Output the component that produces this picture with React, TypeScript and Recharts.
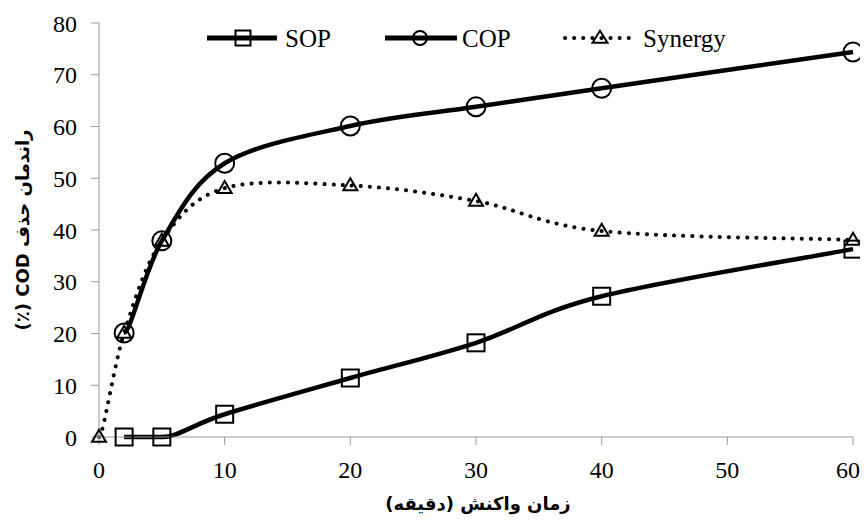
import React from 'react';
import { LineChart, Line, XAxis, YAxis, Legend } from 'recharts';

// ---- data ----
const sopTimes = [2, 5, 10, 20, 30, 40, 60];
const sopValues = [0, 0, 4.4, 11.4, 18.2, 27.2, 36.3];
const copTimes = [2, 5, 10, 20, 30, 40, 60];
const copValues = [20.1, 37.9, 52.9, 60.1, 63.8, 67.4, 74.4];
const synergyTimes = [0, 2, 5, 10, 20, 30, 40, 60];
const synergyValues = [0, 20.1, 37.9, 48.1, 48.6, 45.6, 39.8, 38.1];
const xTicks = [0, 10, 20, 30, 40, 50, 60];
const yTicks = [0, 10, 20, 30, 40, 50, 60, 70, 80];
const seriesNames = ['SOP', 'COP', 'Synergy'];
const xTitle = 'زمان واکنش (دقیقه)';
const yTitle = 'راندمان حذف COD (٪)';

const sopData = sopTimes.map((t, i) => ({ t, v: sopValues[i] }));
const copData = copTimes.map((t, i) => ({ t, v: copValues[i] }));
const synergyData = synergyTimes.map((t, i) => ({ t, v: synergyValues[i] }));

const SERIF = 'Liberation Serif';
const PERSIAN = 'DejaVu Sans';
const AXIS_GRAY = '#9a9a9a';

// Excel-like smoothing (Catmull-Rom converted to Bezier); flat segments stay flat
function excelCurve(context: any) {
  let pts: number[][] = [];
  return {
    areaStart() {},
    areaEnd() {},
    lineStart() {
      pts = [];
    },
    point(x: number, y: number) {
      pts.push([+x, +y]);
    },
    lineEnd() {
      const n = pts.length;
      if (!n) return;
      context.moveTo(pts[0][0], pts[0][1]);
      for (let i = 0; i < n - 1; i++) {
        const p0 = pts[i - 1] || pts[i];
        const p1 = pts[i];
        const p2 = pts[i + 1];
        const p3 = pts[i + 2] || pts[i + 1];
        if (p1[1] === p2[1]) {
          context.lineTo(p2[0], p2[1]);
          continue;
        }
        const flatBefore = p0[1] === p1[1];
        context.bezierCurveTo(
          p1[0] + (p2[0] - p0[0]) / 6,
          flatBefore ? p1[1] : p1[1] + (p2[1] - p0[1]) / 6,
          p2[0] - (p3[0] - p1[0]) / 6,
          p2[1] - (p3[1] - p1[1]) / 6,
          p2[0],
          p2[1]
        );
      }
    },
  };
}

const SquareDot = ({ cx, cy, size = 17 }: any) => (
  <rect x={cx - size / 2} y={cy - size / 2} width={size} height={size} fill="none" stroke="#000" strokeWidth={2} />
);
const CircleDot = ({ cx, cy, r = 9.5 }: any) => (
  <circle cx={cx} cy={cy} r={r} fill="none" stroke="#000" strokeWidth={2} />
);
const TriangleDot = ({ cx, cy, w = 14, h = 12 }: any) => (
  <polygon
    points={`${cx},${cy - h * 0.6} ${cx - w / 2},${cy + h * 0.4} ${cx + w / 2},${cy + h * 0.4}`}
    fill="none"
    stroke="#000"
    strokeWidth={2}
    strokeLinejoin="miter"
  />
);

const legendText = { fontFamily: SERIF, fontSize: 25, fill: '#000' };

const renderLegend = () => {
  const ly = 30;
  const ty = 39;
  return (
    <svg width={852} height={60} style={{ display: 'block' }}>
      <line x1={199} x2={269} y1={ly} y2={ly} stroke="#000" strokeWidth={5} />
      <SquareDot cx={235} cy={ly} size={15} />
      <text x={277} y={ty} style={legendText}>{seriesNames[0]}</text>

      <line x1={377} x2={449} y1={ly} y2={ly} stroke="#000" strokeWidth={5} />
      <CircleDot cx={412} cy={ly} r={7} />
      <text x={454} y={ty} style={legendText}>{seriesNames[1]}</text>

      <line
        x1={557}
        x2={626}
        y1={ly}
        y2={ly}
        stroke="#000"
        strokeWidth={4}
        strokeDasharray="0.1 9"
        strokeLinecap="round"
      />
      <TriangleDot cx={592} cy={ly} w={15} h={12} />
      <text x={635} y={ty} style={legendText}>{seriesNames[2]}</text>
    </svg>
  );
};

const XTitleLabel = (props: any) => {
  const vb = props.viewBox || {};
  const cx = vb.x + vb.width / 2 + 2;
  return (
    <text
      x={cx}
      y={vb.y + 73}
      textAnchor="middle"
      direction="rtl"
      style={{ fontFamily: PERSIAN, fontWeight: 'bold', fontSize: 18, fill: '#000' }}
    >
      {xTitle}
    </text>
  );
};

const YTitleLabel = (props: any) => {
  const vb = props.viewBox || {};
  const cx = 14;
  const cy = vb.y + vb.height / 2;
  return (
    <text
      x={cx}
      y={cy}
      textAnchor="middle"
      dominantBaseline="central"
      direction="rtl"
      transform={`rotate(-90, ${cx}, ${cy})`}
      style={{ fontFamily: PERSIAN, fontWeight: 'bold', fontSize: 18, fill: '#000' }}
    >
      {yTitle}
    </text>
  );
};

export default function App() {
  return (
    <div style={{ width: 852, height: 507, background: '#fff' }}>
      <LineChart width={852} height={507} margin={{ top: 15, right: 7, bottom: 0, left: 0 }}>
        <XAxis
          dataKey="t"
          type="number"
          domain={[0, 60]}
          ticks={xTicks}
          allowDuplicatedCategory={false}
          height={78}
          stroke={AXIS_GRAY}
          tickSize={8}
          tickMargin={16}
          tick={{ fill: '#000', fontFamily: SERIF, fontSize: 24 }}
          label={<XTitleLabel />}
        />
        <YAxis
          type="number"
          domain={[0, 80]}
          ticks={yTicks}
          width={91}
          stroke={AXIS_GRAY}
          tickSize={8}
          tickMargin={14}
          tick={{ fill: '#000', fontFamily: SERIF, fontSize: 24 }}
          label={<YTitleLabel />}
        />
        <Legend
          content={renderLegend}
          layout="horizontal"
          align="center"
          verticalAlign="middle"
          wrapperStyle={{ position: 'absolute', top: 0, left: 0, width: 852, height: 60 }}
        />
        <Line
          data={synergyData}
          dataKey="v"
          name={seriesNames[2]}
          type={excelCurve as any}
          stroke="#000"
          strokeWidth={4}
          strokeDasharray="0.1 9"
          strokeLinecap="round"
          isAnimationActive={false}
          dot={(p: any) => <TriangleDot key={`syn-${p.index}`} cx={p.cx} cy={p.cy} />}
          activeDot={false}
        />
        <Line
          data={sopData}
          dataKey="v"
          name={seriesNames[0]}
          type={excelCurve as any}
          stroke="#000"
          strokeWidth={4.5}
          isAnimationActive={false}
          dot={(p: any) => <SquareDot key={`sop-${p.index}`} cx={p.cx} cy={p.cy} />}
          activeDot={false}
        />
        <Line
          data={copData}
          dataKey="v"
          name={seriesNames[1]}
          type={excelCurve as any}
          stroke="#000"
          strokeWidth={4.5}
          isAnimationActive={false}
          dot={(p: any) => <CircleDot key={`cop-${p.index}`} cx={p.cx} cy={p.cy} />}
          activeDot={false}
        />
      </LineChart>
    </div>
  );
}
